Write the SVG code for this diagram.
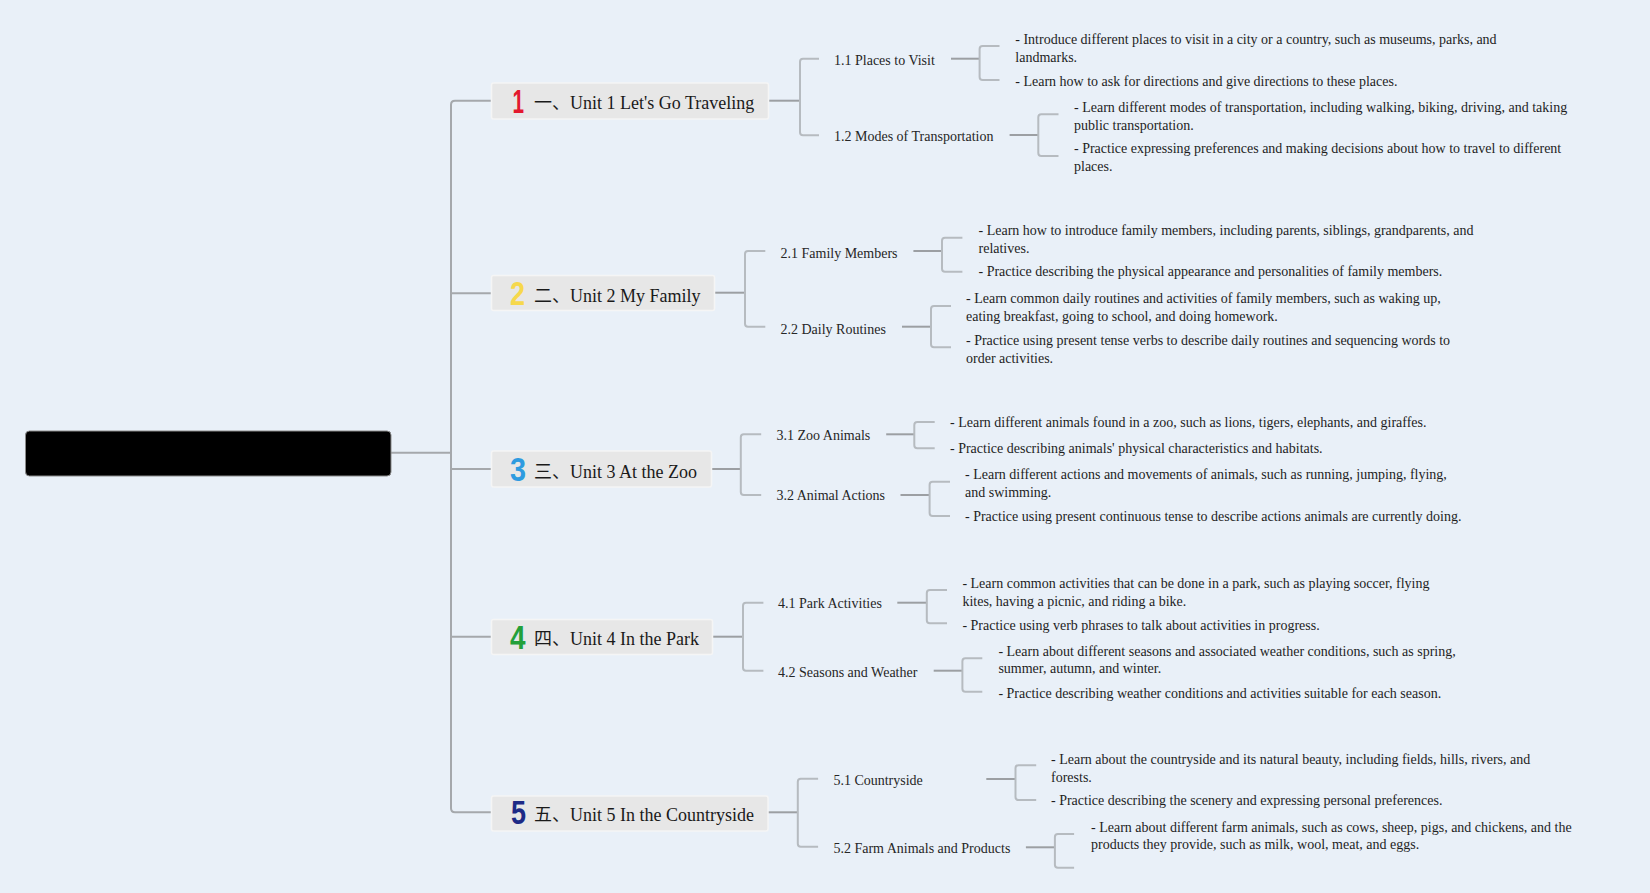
<svg xmlns="http://www.w3.org/2000/svg" width="1650" height="893" viewBox="0 0 1650 893">
<style>
.bg{fill:#e9f0f8}
.unit rect{fill:#e7e7e7;stroke:#f5f5f5;stroke-width:1.5}
.ut{font-family:"Liberation Serif","Noto Sans CJK SC",serif;font-size:18px;fill:#1a1a1a}
.num{font-family:"Liberation Sans",sans-serif;font-weight:bold;font-size:33px}
.sub{font-family:"Liberation Serif",serif;font-size:14px;fill:#262626}
.det{font-family:"Liberation Serif",serif;font-size:14px;fill:#1e1e1e}
.stem{stroke:#9c9fa3;stroke-width:2;fill:none}
.br{stroke:#b6bbc0;stroke-width:2;fill:none}
.trunk{stroke:#a5a8ac;stroke-width:2;fill:none}
</style>
<rect class="bg" x="0" y="0" width="1650" height="893"/>
<g id="connectors">
<path class="trunk" d="M391,452.7 H451"/>
<path class="trunk" d="M491.5,100.7 H455 Q451,100.7 451,104.7 V808.3 Q451,812.3 455,812.3 H491.5"/>
<path class="trunk" d="M451,293.3 H491.5 M451,469 H491.5 M451,636.7 H491.5"/>
<path class="stem" d="M768.5,100.7 H800"/>
<path class="br" d="M819,58.7 H803 Q800,58.7 800,61.7 V132.3 Q800,135.3 803,135.3 H819"/>
<path class="stem" d="M951,58.7 H979.6"/>
<path class="br" d="M999.5,46 H982.6 Q979.6,46 979.6,49 V77 Q979.6,80 982.6,80 H999.5"/>
<path class="stem" d="M1009.6,135 H1038.3"/>
<path class="br" d="M1058.5,114.3 H1041.3 Q1038.3,114.3 1038.3,117.3 V153 Q1038.3,156 1041.3,156 H1058.5"/>
<path class="stem" d="M715,292.7 H745"/>
<path class="br" d="M765.3,251 H748 Q745,251 745,254 V323.7 Q745,326.7 748,326.7 H765.3"/>
<path class="stem" d="M913.4,251 H942"/>
<path class="br" d="M962.4,237.7 H945 Q942,237.7 942,240.7 V268.7 Q942,271.7 945,271.7 H962.4"/>
<path class="stem" d="M902,326.7 H931"/>
<path class="br" d="M951,306 H934 Q931,306 931,309 V344.3 Q931,347.3 934,347.3 H951"/>
<path class="stem" d="M711.5,469 H740.8"/>
<path class="br" d="M761.2,434.3 H743.8 Q740.8,434.3 740.8,437.3 V492 Q740.8,495 743.8,495 H761.2"/>
<path class="stem" d="M886.2,434.3 H914.3"/>
<path class="br" d="M934.7,422 H917.3 Q914.3,422 914.3,425 V445.3 Q914.3,448.3 917.3,448.3 H934.7"/>
<path class="stem" d="M900.5,495 H929.6"/>
<path class="br" d="M950,481.7 H932.6 Q929.6,481.7 929.6,484.7 V513 Q929.6,516 932.6,516 H950"/>
<path class="stem" d="M712.5,636.7 H743"/>
<path class="br" d="M763.4,602.7 H746 Q743,602.7 743,605.7 V667.7 Q743,670.7 746,670.7 H763.4"/>
<path class="stem" d="M897.3,602.7 H926.8"/>
<path class="br" d="M947,590 H929.8 Q926.8,590 926.8,593 V620.3 Q926.8,623.3 929.8,623.3 H947"/>
<path class="stem" d="M933.7,670.7 H962.4"/>
<path class="br" d="M982.3,658.3 H965.4 Q962.4,658.3 962.4,661.3 V688.7 Q962.4,691.7 965.4,691.7 H982.3"/>
<path class="stem" d="M768,812.3 H797.8"/>
<path class="br" d="M818.1,778.7 H800.8 Q797.8,778.7 797.8,781.7 V843.7 Q797.8,846.7 800.8,846.7 H818.1"/>
<path class="stem" d="M986.3,779 H1015.5"/>
<path class="br" d="M1036.2,765.3 H1018.5 Q1015.5,765.3 1015.5,768.3 V797 Q1015.5,800 1018.5,800 H1036.2"/>
<path class="stem" d="M1025.9,847.3 H1054.9"/>
<path class="br" d="M1074.1,834 H1057.9 Q1054.9,834 1054.9,837 V864.7 Q1054.9,867.7 1057.9,867.7 H1074.1"/>
</g>
<g id="root">
<rect x="25.5" y="431" width="365.5" height="45" rx="4" fill="#000" stroke="#8a8a8a" stroke-width="1"/>
</g>
<g id="unit1" class="unit">
<rect x="491.5" y="83" width="277" height="36" rx="2"/>
<text class="num" x="512.5" y="112.7" fill="#e3192e" textLength="11.5" lengthAdjust="spacingAndGlyphs">1</text>
<text class="ut" x="534" y="109.3">一、Unit 1 Let's Go Traveling</text>
</g>
<g id="unit2" class="unit">
<rect x="491.5" y="275.5" width="223" height="35" rx="2"/>
<text class="num" x="510" y="305.3" fill="#f6d84c" textLength="15" lengthAdjust="spacingAndGlyphs">2</text>
<text class="ut" x="534" y="301.9">二、Unit 2 My Family</text>
</g>
<g id="unit3" class="unit">
<rect x="491.5" y="451" width="220" height="36" rx="2"/>
<text class="num" x="510" y="481" fill="#2e9be0" textLength="16" lengthAdjust="spacingAndGlyphs">3</text>
<text class="ut" x="534" y="477.6">三、Unit 3 At the Zoo</text>
</g>
<g id="unit4" class="unit">
<rect x="491.5" y="619.5" width="221" height="35" rx="2"/>
<text class="num" x="510" y="648.7" fill="#23a03a" textLength="15.5" lengthAdjust="spacingAndGlyphs">4</text>
<text class="ut" x="534" y="645.3">四、Unit 4 In the Park</text>
</g>
<g id="unit5" class="unit">
<rect x="491.5" y="796" width="276.5" height="35" rx="2"/>
<text class="num" x="511" y="824.3" fill="#1d2a86" textLength="15" lengthAdjust="spacingAndGlyphs">5</text>
<text class="ut" x="534" y="820.9">五、Unit 5 In the Countryside</text>
</g>
<g id="s11"><text class="sub" x="834" y="65">1.1 Places to Visit</text></g>
<g id="s12"><text class="sub" x="834" y="141">1.2 Modes of Transportation</text></g>
<g id="s21"><text class="sub" x="780.5" y="257.5">2.1 Family Members</text></g>
<g id="s22"><text class="sub" x="780.5" y="333.5">2.2 Daily Routines</text></g>
<g id="s31"><text class="sub" x="776.5" y="440">3.1 Zoo Animals</text></g>
<g id="s32"><text class="sub" x="776.5" y="500">3.2 Animal Actions</text></g>
<g id="s41"><text class="sub" x="778" y="608.3">4.1 Park Activities</text></g>
<g id="s42"><text class="sub" x="778" y="676.7">4.2 Seasons and Weather</text></g>
<g id="s51"><text class="sub" x="833.4" y="785">5.1 Countryside</text></g>
<g id="s52"><text class="sub" x="833.4" y="853.3">5.2 Farm Animals and Products</text></g>
<g id="d11a"><text class="det" x="1015.3" y="44">- Introduce different places to visit in a city or a country, such as museums, parks, and</text><text class="det" x="1015.3" y="62">landmarks.</text></g>
<g id="d11b"><text class="det" x="1015.3" y="86">- Learn how to ask for directions and give directions to these places.</text></g>
<g id="d12a"><text class="det" x="1074" y="112">- Learn different modes of transportation, including walking, biking, driving, and taking</text><text class="det" x="1074" y="129.5">public transportation.</text></g>
<g id="d12b"><text class="det" x="1074" y="153">- Practice expressing preferences and making decisions about how to travel to different</text><text class="det" x="1074" y="170.5">places.</text></g>
<g id="d21a"><text class="det" x="978.5" y="235">- Learn how to introduce family members, including parents, siblings, grandparents, and</text><text class="det" x="978.5" y="252.7">relatives.</text></g>
<g id="d21b"><text class="det" x="978.5" y="276">- Practice describing the physical appearance and personalities of family members.</text></g>
<g id="d22a"><text class="det" x="966" y="303.3">- Learn common daily routines and activities of family members, such as waking up,</text><text class="det" x="966" y="320.7">eating breakfast, going to school, and doing homework.</text></g>
<g id="d22b"><text class="det" x="966" y="345">- Practice using present tense verbs to describe daily routines and sequencing words to</text><text class="det" x="966" y="362.7">order activities.</text></g>
<g id="d31a"><text class="det" x="950" y="427.3">- Learn different animals found in a zoo, such as lions, tigers, elephants, and giraffes.</text></g>
<g id="d31b"><text class="det" x="950" y="453.3">- Practice describing animals' physical characteristics and habitats.</text></g>
<g id="d32a"><text class="det" x="965" y="479">- Learn different actions and movements of animals, such as running, jumping, flying,</text><text class="det" x="965" y="496.7">and swimming.</text></g>
<g id="d32b"><text class="det" x="965" y="521">- Practice using present continuous tense to describe actions animals are currently doing.</text></g>
<g id="d41a"><text class="det" x="962.4" y="588.3">- Learn common activities that can be done in a park, such as playing soccer, flying</text><text class="det" x="962.4" y="605.7">kites, having a picnic, and riding a bike.</text></g>
<g id="d41b"><text class="det" x="962.4" y="630">- Practice using verb phrases to talk about activities in progress.</text></g>
<g id="d42a"><text class="det" x="998.4" y="655.7">- Learn about different seasons and associated weather conditions, such as spring,</text><text class="det" x="998.4" y="673.3">summer, autumn, and winter.</text></g>
<g id="d42b"><text class="det" x="998.4" y="697.7">- Practice describing weather conditions and activities suitable for each season.</text></g>
<g id="d51a"><text class="det" x="1051" y="764">- Learn about the countryside and its natural beauty, including fields, hills, rivers, and</text><text class="det" x="1051" y="781.7">forests.</text></g>
<g id="d51b"><text class="det" x="1051" y="805">- Practice describing the scenery and expressing personal preferences.</text></g>
<g id="d52a"><text class="det" x="1091" y="831.7">- Learn about different farm animals, such as cows, sheep, pigs, and chickens, and the</text><text class="det" x="1091" y="849.3">products they provide, such as milk, wool, meat, and eggs.</text></g>
</svg>
